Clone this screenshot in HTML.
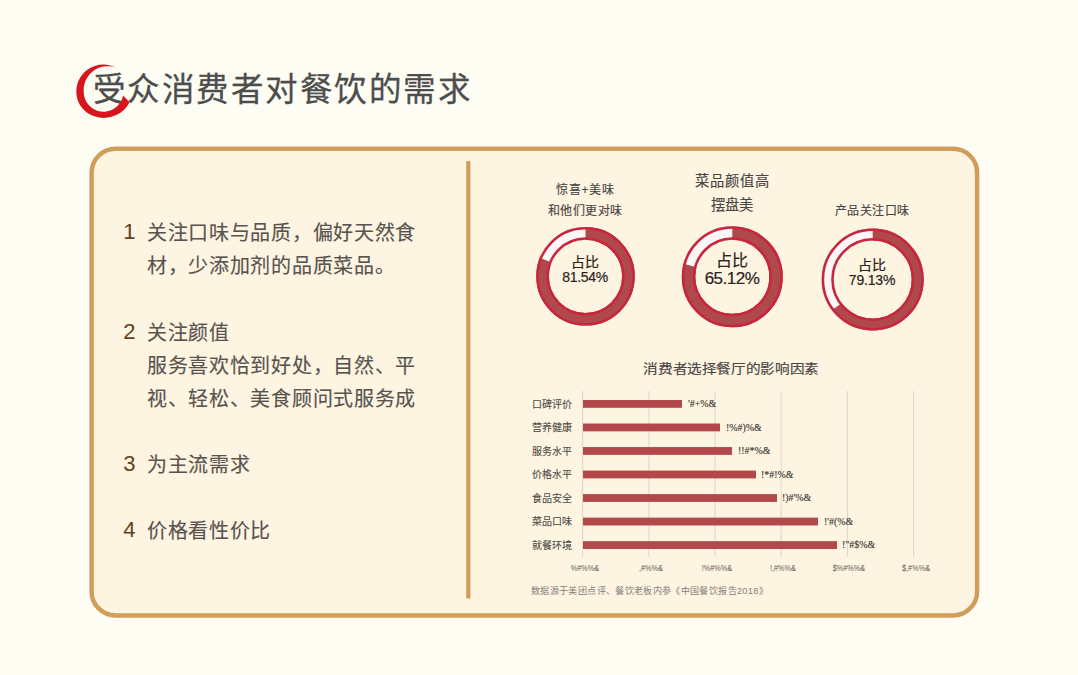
<!DOCTYPE html>
<html lang="zh-CN">
<head>
<meta charset="utf-8">
<style>
*{margin:0;padding:0;box-sizing:border-box;}
html,body{width:1078px;height:675px;overflow:hidden;background:#fefdf4;font-family:"Liberation Sans",sans-serif;}
.abs{position:absolute;white-space:nowrap;}
#title{left:92.7px;top:70px;font-size:32.5px;line-height:40px;letter-spacing:1.5px;color:#4d4d4d;-webkit-text-stroke:0.3px #4d4d4d;}
#panel{position:absolute;left:89px;top:146.2px;width:889.8px;height:471px;border:4.5px solid #d19d5b;border-radius:26px;background:#fdf4e2;}
#divider{position:absolute;left:466px;top:161px;width:4px;height:437px;background:#d19e5c;}
.li{position:absolute;font-size:20px;line-height:33px;letter-spacing:0.7px;color:#58534e;-webkit-text-stroke:0.15px #58534e;}
.num{position:absolute;font-size:22px;line-height:22px;color:#62411a;}
.hd{position:absolute;color:#4a4643;text-align:center;white-space:nowrap;-webkit-text-stroke:0.15px #4a4643;}
.ctr{position:absolute;color:#2b231c;text-align:center;white-space:nowrap;-webkit-text-stroke:0.2px #2b231c;}
.cat{position:absolute;font-size:10px;line-height:12px;color:#4f4a45;text-align:right;white-space:nowrap;-webkit-text-stroke:0.1px #4f4a45;}
.val{position:absolute;font-family:"Liberation Serif",serif;font-size:11px;line-height:12px;color:#3a3530;white-space:nowrap;transform:scaleX(0.9);transform-origin:0 0;-webkit-text-stroke:0.15px #3a3530;}
.ax{position:absolute;font-size:8.5px;line-height:10px;color:#5f5a55;white-space:nowrap;transform:translateX(-50%) scaleX(0.86);}
</style>
</head>
<body>

<div id="title" class="abs">受众消费者对餐饮的需求</div>
<svg class="abs" style="left:0;top:0" width="1078" height="675">
  <path d="M116 67.7 A27 27 0 0 0 76.3 92 A26 26 0 0 0 98 117.3 A29 29 0 0 0 129.6 102.2 L123.1 95.4 A20 20 0 0 1 98 111 A20 20 0 0 1 83.7 92 A24 24 0 0 1 116 67.7 Z" fill="#d8141c"/>
</svg>
<svg class="abs" style="left:0;top:0" width="1078" height="675"><rect x="91.6" y="148.7" width="885.5" height="466.7" rx="24" ry="24" fill="#fdf4e2" stroke="#d19d5b" stroke-width="4.5"/><rect x="466.2" y="161" width="4.2" height="437.4" fill="#d19d5b"/></svg>

<div class="num" style="left:123.2px;top:221px;">1</div>
<div class="li" style="left:147px;top:216.7px;">关注口味与品质，偏好天然食<br>材，少添加剂的品质菜品。</div>
<div class="num" style="left:123.2px;top:321px;">2</div>
<div class="li" style="left:147px;top:316.9px;">关注颜值<br>服务喜欢恰到好处，自然、平<br>视、轻松、美食顾问式服务成</div>
<div class="num" style="left:123.2px;top:453px;">3</div>
<div class="li" style="left:147px;top:449.1px;">为主流需求</div>
<div class="num" style="left:123.2px;top:519px;">4</div>
<div class="li" style="left:147px;top:515.1px;">价格看性价比</div>

<div class="hd" style="left:535px;top:180.7px;width:100px;font-size:12px;line-height:18px;letter-spacing:0.8px;text-indent:0.8px;">惊喜+美味</div>
<div class="hd" style="left:535px;top:202.2px;width:100px;font-size:12px;line-height:18px;letter-spacing:0.4px;text-indent:0.4px;">和他们更对味</div>
<div class="hd" style="left:682px;top:168.5px;width:100px;font-size:14.3px;line-height:25px;letter-spacing:1.2px;text-indent:1.2px;">菜品颜值高</div>
<div class="hd" style="left:682px;top:192.5px;width:100px;font-size:14.3px;line-height:25px;letter-spacing:0.3px;text-indent:0.3px;">摆盘美</div>
<div class="hd" style="left:822px;top:202.3px;width:100px;font-size:12px;line-height:18px;letter-spacing:0.5px;text-indent:0.5px;">产品关注口味</div>

<svg class="abs" style="left:0;top:0" width="1078" height="675" id="donuts">
  <circle cx="585.5" cy="276.3" r="42.95" fill="none" stroke="#b0494b" stroke-width="12.699999999999996"/>
  <path d="M545.68 260.21 A42.95 42.95 0 0 1 585.50 233.35" fill="none" stroke="#fdf6f6" stroke-width="12.699999999999996"/>
  <circle cx="585.5" cy="276.3" r="48.05" fill="none" stroke="#c8263d" stroke-width="2.5"/>
  <circle cx="585.5" cy="276.3" r="37.85" fill="none" stroke="#c8263d" stroke-width="2.5"/>
  <circle cx="732.3" cy="276.8" r="43.75" fill="none" stroke="#b0494b" stroke-width="13.5"/>
  <path d="M690.04 265.48 A43.75 43.75 0 0 1 732.30 233.05" fill="none" stroke="#fdf6f6" stroke-width="13.5"/>
  <circle cx="732.3" cy="276.8" r="49.25" fill="none" stroke="#c8263d" stroke-width="2.5"/>
  <circle cx="732.3" cy="276.8" r="38.25" fill="none" stroke="#c8263d" stroke-width="2.5"/>
  <circle cx="872.7" cy="279.5" r="45.0" fill="none" stroke="#b0494b" stroke-width="12"/>
  <path d="M836.76 306.58 A45.0 45.0 0 0 1 872.70 234.50" fill="none" stroke="#fdf6f6" stroke-width="12"/>
  <circle cx="872.7" cy="279.5" r="49.75" fill="none" stroke="#c8263d" stroke-width="2.5"/>
  <circle cx="872.7" cy="279.5" r="40.25" fill="none" stroke="#c8263d" stroke-width="2.5"/>

</svg>

<div class="ctr" style="left:535px;top:253.5px;width:100px;font-size:14px;line-height:16px;">占比</div>
<div class="ctr" style="left:535px;top:268.5px;width:100px;font-size:14px;line-height:16px;letter-spacing:-0.3px;">81.54%</div>
<div class="ctr" style="left:682px;top:252px;width:100px;font-size:16px;line-height:18px;">占比</div>
<div class="ctr" style="left:682px;top:269.5px;width:100px;font-size:17px;line-height:18px;letter-spacing:-0.5px;">65.12%</div>
<div class="ctr" style="left:822px;top:257px;width:100px;font-size:14px;line-height:16px;">占比</div>
<div class="ctr" style="left:822px;top:272px;width:100px;font-size:14px;line-height:16px;letter-spacing:-0.2px;">79.13%</div>

<div class="hd" style="left:600.65px;top:359px;width:260px;font-size:13px;line-height:20px;color:#4a4643;transform:scaleX(1.125);">消费者选择餐厅的影响因素</div>

<svg class="abs" style="left:0;top:0" width="1078" height="675">
  <g stroke="#e0d8cb" stroke-width="1.1">
    <line x1="582.6" y1="391" x2="582.6" y2="557"/>
    <line x1="648.8" y1="391" x2="648.8" y2="557"/>
    <line x1="715.0" y1="391" x2="715.0" y2="557"/>
    <line x1="781.2" y1="391" x2="781.2" y2="557"/>
    <line x1="847.4" y1="391" x2="847.4" y2="557"/>
    <line x1="913.6" y1="391" x2="913.6" y2="557"/>
  </g>
  <g fill="#b24849">
    <rect x="583" y="400.00" width="99" height="7.8"/>
    <rect x="583" y="423.53" width="137" height="7.8"/>
    <rect x="583" y="447.06" width="149" height="7.8"/>
    <rect x="583" y="470.59" width="173" height="7.8"/>
    <rect x="583" y="494.12" width="194" height="7.8"/>
    <rect x="583" y="517.65" width="235" height="7.8"/>
    <rect x="583" y="541.18" width="254" height="7.8"/>
  </g>
</svg>
<div class="cat" style="left:512px;top:398.50px;width:60px;">口碑评价</div>
<div class="cat" style="left:512px;top:422.03px;width:60px;">营养健康</div>
<div class="cat" style="left:512px;top:445.56px;width:60px;">服务水平</div>
<div class="cat" style="left:512px;top:469.09px;width:60px;">价格水平</div>
<div class="cat" style="left:512px;top:492.62px;width:60px;">食品安全</div>
<div class="cat" style="left:512px;top:516.15px;width:60px;">菜品口味</div>
<div class="cat" style="left:512px;top:539.68px;width:60px;">就餐环境</div>

<div class="val" style="left:688.2px;top:397.00px;">'#+%&amp;</div>
<div class="val" style="left:725.6px;top:420.53px;">!%#)%&amp;</div>
<div class="val" style="left:737.7px;top:444.06px;">!!#*%&amp;</div>
<div class="val" style="left:761.3px;top:467.59px;">!*#!%&amp;</div>
<div class="val" style="left:782.3px;top:491.12px;">!)#'%&amp;</div>
<div class="val" style="left:823.5px;top:514.65px;">!'#(%&amp;</div>
<div class="val" style="left:842.1px;top:538.18px;">!"#$%&amp;</div>

<div class="ax" style="left:584.6px;top:562.5px;">%#%%&amp;</div>
<div class="ax" style="left:650.8px;top:562.5px;">,#%%&amp;</div>
<div class="ax" style="left:717.0px;top:562.5px;">!%#%%&amp;</div>
<div class="ax" style="left:783.2px;top:562.5px;">!,#%%&amp;</div>
<div class="ax" style="left:849.4px;top:562.5px;">$%#%%&amp;</div>
<div class="ax" style="left:915.6px;top:562.5px;">$,#%%&amp;</div>

<div class="abs" style="left:531px;top:584.5px;font-size:9.1px;line-height:12px;letter-spacing:0.36px;color:#858079;">数据源于美团点评、餐饮老板内参《中国餐饮报告2018》</div>

</body>
</html>
